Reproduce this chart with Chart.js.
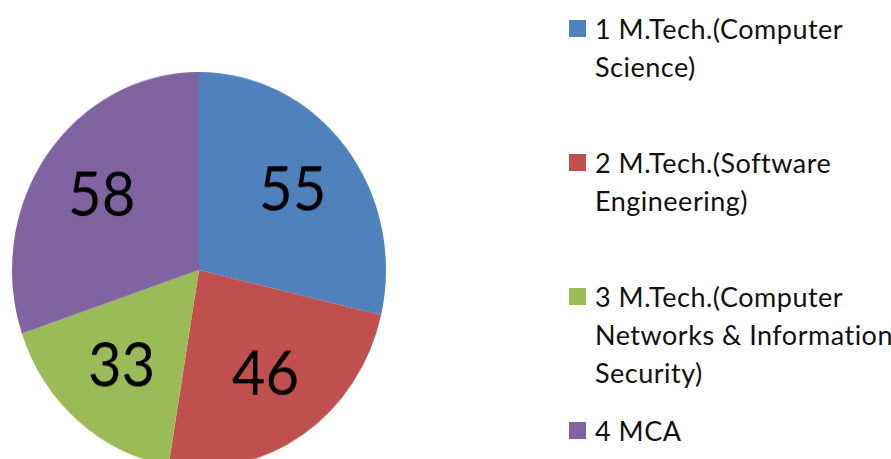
<!DOCTYPE html>
<html>
<head>
<meta charset="utf-8">
<script src="https://cdn.jsdelivr.net/npm/chart.js@4/dist/chart.umd.min.js"></script>
<style>
  html, body { margin: 0; padding: 0; background: #fff; }
  body { width: 891px; height: 459px; overflow: hidden; position: relative; font-family: Lato, "Open Sans", sans-serif; }
  #pieWrap { position: absolute; left: -1px; top: 70px; width: 400px; height: 400px; transform: scaleY(1.059); transform-origin: 50% 50%; }
  #legend { position: absolute; left: 0; top: 0; }
  .item { position: absolute; left: 569px; }
  .swatch { position: absolute; left: 0; top: 10px; width: 17px; height: 17px; }
  .text { position: absolute; left: 26px; white-space: nowrap; font-size: 27px; letter-spacing: 0.5px; line-height: 38px; color: #111; }
</style>
</head>
<body>
<div id="pieWrap"><canvas id="pie" width="400" height="400"></canvas></div>
<div id="legend"></div>
<script>
// --- Data ---
const programmes = [
  ["1 M.Tech.(Computer", "Science)"],
  ["2 M.Tech.(Software", "Engineering)"],
  ["3 M.Tech.(Computer", "Networks & Information", "Security)"],
  ["4 MCA"]
];
const students = [55, 46, 33, 58];
const sliceColors = ['#4F81BD', '#C0504D', '#9BBB59', '#8064A2'];

// --- Value labels inside slices ---
const sliceLabels = {
  id: 'sliceLabels',
  afterDatasetsDraw(chart) {
    const ctx = chart.ctx;
    const meta = chart.getDatasetMeta(0);
    ctx.save();
    ctx.font = '58px Lato, "Open Sans", sans-serif';
    ctx.fillStyle = '#000';
    ctx.textAlign = 'center';
    ctx.textBaseline = 'middle';
    meta.data.forEach((arc, i) => {
      const mid = (arc.startAngle + arc.endAngle) / 2;
      const r = arc.outerRadius * 0.64;
      ctx.fillText(String(students[i]), arc.x + Math.cos(mid) * r, arc.y + Math.sin(mid) * r);
    });
    ctx.restore();
  }
};

new Chart(document.getElementById('pie'), {
  type: 'pie',
  data: {
    labels: programmes.map(l => l.join(' ')),
    datasets: [{
      data: students,
      backgroundColor: sliceColors,
      borderWidth: 0
    }]
  },
  options: {
    responsive: false,
    animation: false,
    layout: { padding: 13 },
    plugins: {
      legend: { display: false },
      tooltip: { enabled: false }
    }
  },
  plugins: [sliceLabels]
});

// --- HTML legend ---
const legend = document.getElementById('legend');
programmes.forEach((lines, i) => {
  const item = document.createElement('div');
  item.className = 'item';
  item.style.top = (10 + i * 134) + 'px';
  const sw = document.createElement('div');
  sw.className = 'swatch';
  sw.style.background = sliceColors[i];
  const txt = document.createElement('div');
  txt.className = 'text';
  txt.innerHTML = lines.join('<br>');
  item.appendChild(sw);
  item.appendChild(txt);
  legend.appendChild(item);
});
</script>
</body>
</html>
